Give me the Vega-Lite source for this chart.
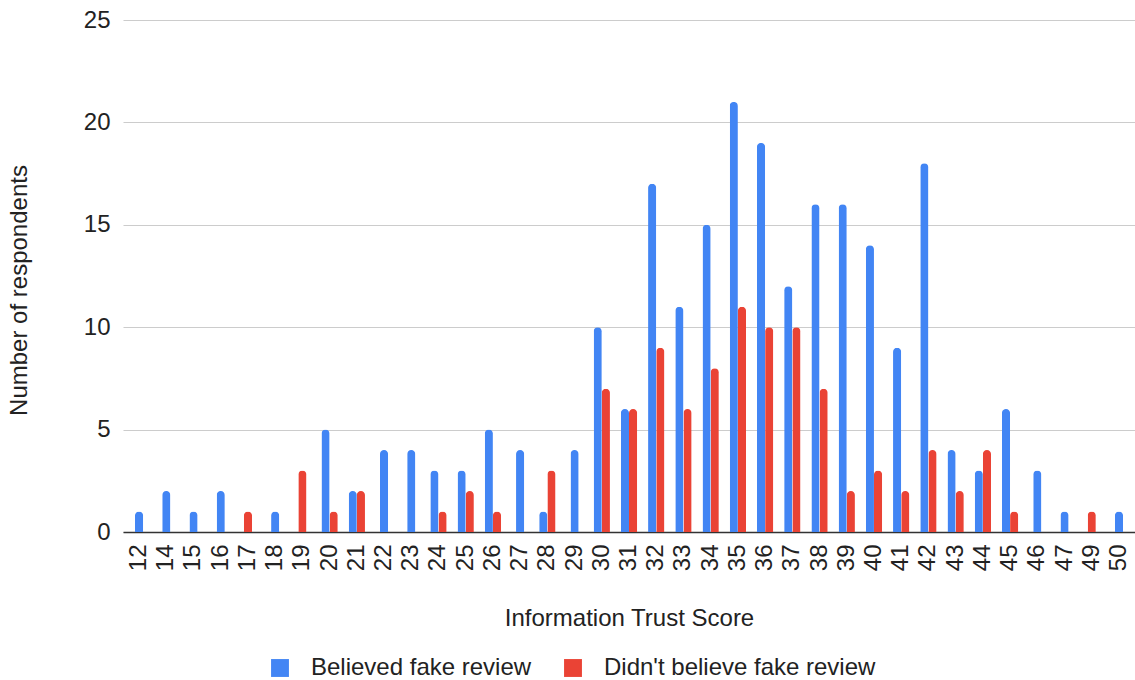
{
  "$schema": "https://vega.github.io/schema/vega-lite/v6.json",
  "autosize": {"type": "none"},
  "padding": {"left": 123, "top": 20, "right": 0, "bottom": 148},
  "width": 1012,
  "height": 512,
  "background": "white",
  "config": {
    "font": "Liberation Sans",
    "view": {"stroke": null},
    "axis": {"labelFont": "Liberation Sans", "titleFont": "Liberation Sans", "labelColor": "#222", "titleColor": "#222", "titleFontWeight": "normal"},
    "legend": {"labelFont": "Liberation Sans"}
  },
  "data": {
    "values": [
      {"score": "12", "series": "Believed fake review", "count": 1},
      {"score": "12", "series": "Didn't believe fake review", "count": 0},
      {"score": "14", "series": "Believed fake review", "count": 2},
      {"score": "14", "series": "Didn't believe fake review", "count": 0},
      {"score": "15", "series": "Believed fake review", "count": 1},
      {"score": "15", "series": "Didn't believe fake review", "count": 0},
      {"score": "16", "series": "Believed fake review", "count": 2},
      {"score": "16", "series": "Didn't believe fake review", "count": 0},
      {"score": "17", "series": "Believed fake review", "count": 0},
      {"score": "17", "series": "Didn't believe fake review", "count": 1},
      {"score": "18", "series": "Believed fake review", "count": 1},
      {"score": "18", "series": "Didn't believe fake review", "count": 0},
      {"score": "19", "series": "Believed fake review", "count": 0},
      {"score": "19", "series": "Didn't believe fake review", "count": 3},
      {"score": "20", "series": "Believed fake review", "count": 5},
      {"score": "20", "series": "Didn't believe fake review", "count": 1},
      {"score": "21", "series": "Believed fake review", "count": 2},
      {"score": "21", "series": "Didn't believe fake review", "count": 2},
      {"score": "22", "series": "Believed fake review", "count": 4},
      {"score": "22", "series": "Didn't believe fake review", "count": 0},
      {"score": "23", "series": "Believed fake review", "count": 4},
      {"score": "23", "series": "Didn't believe fake review", "count": 0},
      {"score": "24", "series": "Believed fake review", "count": 3},
      {"score": "24", "series": "Didn't believe fake review", "count": 1},
      {"score": "25", "series": "Believed fake review", "count": 3},
      {"score": "25", "series": "Didn't believe fake review", "count": 2},
      {"score": "26", "series": "Believed fake review", "count": 5},
      {"score": "26", "series": "Didn't believe fake review", "count": 1},
      {"score": "27", "series": "Believed fake review", "count": 4},
      {"score": "27", "series": "Didn't believe fake review", "count": 0},
      {"score": "28", "series": "Believed fake review", "count": 1},
      {"score": "28", "series": "Didn't believe fake review", "count": 3},
      {"score": "29", "series": "Believed fake review", "count": 4},
      {"score": "29", "series": "Didn't believe fake review", "count": 0},
      {"score": "30", "series": "Believed fake review", "count": 10},
      {"score": "30", "series": "Didn't believe fake review", "count": 7},
      {"score": "31", "series": "Believed fake review", "count": 6},
      {"score": "31", "series": "Didn't believe fake review", "count": 6},
      {"score": "32", "series": "Believed fake review", "count": 17},
      {"score": "32", "series": "Didn't believe fake review", "count": 9},
      {"score": "33", "series": "Believed fake review", "count": 11},
      {"score": "33", "series": "Didn't believe fake review", "count": 6},
      {"score": "34", "series": "Believed fake review", "count": 15},
      {"score": "34", "series": "Didn't believe fake review", "count": 8},
      {"score": "35", "series": "Believed fake review", "count": 21},
      {"score": "35", "series": "Didn't believe fake review", "count": 11},
      {"score": "36", "series": "Believed fake review", "count": 19},
      {"score": "36", "series": "Didn't believe fake review", "count": 10},
      {"score": "37", "series": "Believed fake review", "count": 12},
      {"score": "37", "series": "Didn't believe fake review", "count": 10},
      {"score": "38", "series": "Believed fake review", "count": 16},
      {"score": "38", "series": "Didn't believe fake review", "count": 7},
      {"score": "39", "series": "Believed fake review", "count": 16},
      {"score": "39", "series": "Didn't believe fake review", "count": 2},
      {"score": "40", "series": "Believed fake review", "count": 14},
      {"score": "40", "series": "Didn't believe fake review", "count": 3},
      {"score": "41", "series": "Believed fake review", "count": 9},
      {"score": "41", "series": "Didn't believe fake review", "count": 2},
      {"score": "42", "series": "Believed fake review", "count": 18},
      {"score": "42", "series": "Didn't believe fake review", "count": 4},
      {"score": "43", "series": "Believed fake review", "count": 4},
      {"score": "43", "series": "Didn't believe fake review", "count": 2},
      {"score": "44", "series": "Believed fake review", "count": 3},
      {"score": "44", "series": "Didn't believe fake review", "count": 4},
      {"score": "45", "series": "Believed fake review", "count": 6},
      {"score": "45", "series": "Didn't believe fake review", "count": 1},
      {"score": "46", "series": "Believed fake review", "count": 3},
      {"score": "46", "series": "Didn't believe fake review", "count": 0},
      {"score": "47", "series": "Believed fake review", "count": 1},
      {"score": "47", "series": "Didn't believe fake review", "count": 0},
      {"score": "49", "series": "Believed fake review", "count": 0},
      {"score": "49", "series": "Didn't believe fake review", "count": 1},
      {"score": "50", "series": "Believed fake review", "count": 1},
      {"score": "50", "series": "Didn't believe fake review", "count": 0}
    ]
  },
  "transform": [
    {"filter": "datum.count > 0"},
    {"joinaggregate": [{"op": "count", "as": "n"}], "groupby": ["score"]}
  ],
  "encoding": {
    "x": {
      "field": "score",
      "type": "ordinal",
      "scale": {
        "domain": ["12","14","15","16","17","18","19","20","21","22","23","24","25","26","27","28","29","30","31","32","33","34","35","36","37","38","39","40","41","42","43","44","45","46","47","49","50"],
        "paddingInner": 0.4,
        "paddingOuter": 0.29
      },
      "axis": {
        "title": "Information Trust Score",
        "titleFontSize": 24,
        "titlePadding": 36,
        "labelAngle": 270,
        "labelFontSize": 24,
        "labelPadding": 12,
        "ticks": false,
        "domain": true,
        "domainColor": "#333",
        "domainWidth": 1.5
      }
    },
    "y": {
      "field": "count",
      "type": "quantitative",
      "scale": {"domain": [0, 25], "nice": false},
      "axis": {
        "title": "Number of respondents",
        "titleFontSize": 24,
        "titleX": -92,
        "titleY": 270,
        "titleAngle": 270,
        "values": [0, 5, 10, 15, 20, 25],
        "labelFontSize": 24,
        "labelPadding": 13,
        "ticks": false,
        "domain": false,
        "gridColor": "#cccccc",
        "gridWidth": 1.2
      }
    },
    "color": {
      "field": "series",
      "type": "nominal",
      "scale": {"domain": ["Believed fake review", "Didn't believe fake review"], "range": ["#4285F4", "#EA4335"]},
      "legend": {
        "title": null,
        "orient": "none",
        "direction": "horizontal",
        "legendX": 145,
        "legendY": 636,
        "symbolType": "square",
        "symbolSize": 320,
        "symbolStrokeWidth": 0,
        "symbolOpacity": 1,
        "labelFontSize": 24,
        "labelLimit": 0,
        "labelColor": "#222",
        "labelOffset": 19,
        "columnPadding": 29
      }
    }
  },
  "layer": [
    {
      "transform": [{"filter": "datum.n == 2"}],
      "mark": {"type": "bar", "cornerRadiusTopLeft": 4, "cornerRadiusTopRight": 4},
      "encoding": {
        "xOffset": {"field": "series", "type": "nominal", "scale": {"domain": ["Believed fake review", "Didn't believe fake review"], "paddingInner": 0, "paddingOuter": 0}}
      }
    },
    {
      "transform": [{"filter": "datum.n == 1"}],
      "mark": {"type": "bar", "width": {"band": 0.5}, "cornerRadiusTopLeft": 4, "cornerRadiusTopRight": 4},
      "encoding": {}
    }
  ]
}
